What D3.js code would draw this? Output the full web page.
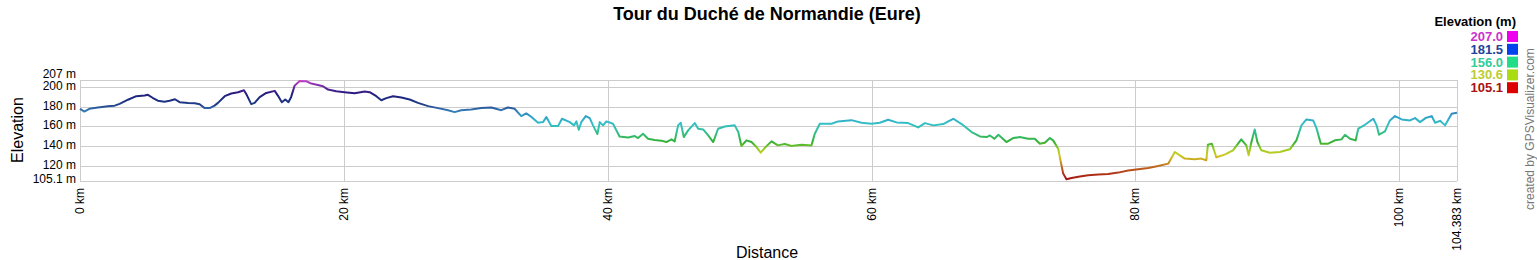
<!DOCTYPE html>
<html><head><meta charset="utf-8">
<script src="https://cdn.jsdelivr.net/npm/d3@7"></script>
<style>body{margin:0;background:#fff;}svg{display:block;font-family:"Liberation Sans",Arial,sans-serif;}</style>
</head><body>
<svg id="c" width="1537" height="260"></svg>
<script>
const distKm = [0,0.33,0.71,1.36,2.12,2.63,3.0,3.64,4.27,4.9,5.15,5.5,5.9,6.4,6.8,7.2,7.55,8.2,8.7,9.07,9.45,9.83,10.2,10.46,10.97,11.47,11.98,12.43,12.6,12.98,13.24,13.62,14.12,14.76,15.0,15.3,15.56,15.8,16.0,16.27,16.65,17.16,17.54,18.04,18.42,18.8,19.43,20.06,20.82,21.58,21.96,22.46,22.84,23.22,23.73,24.36,24.99,25.62,26.38,27.14,27.9,28.4,28.9,29.66,30.42,31.18,31.93,32.44,32.94,33.45,33.83,34.2,34.72,35.1,35.35,35.73,36.24,36.54,37.13,37.45,37.63,37.81,38.0,38.34,38.64,38.89,39.22,39.4,39.65,39.9,40.4,40.9,41.55,42.05,42.3,42.68,43.06,43.56,44.07,44.45,44.83,45.08,45.34,45.54,45.77,46.1,46.6,46.86,47.24,47.62,48.0,48.37,48.88,49.63,49.9,50.14,50.52,50.9,51.28,51.6,51.9,52.42,52.9,53.42,53.93,54.69,55.45,55.7,56.08,56.97,57.47,58.48,59.24,60.0,60.63,61.26,61.9,62.78,63.54,64.05,64.68,65.44,65.82,66.2,66.83,67.59,68.22,68.73,68.98,69.31,69.62,69.85,70.23,70.73,71.24,71.87,72.38,72.76,73.14,73.52,73.77,74.15,74.35,74.53,74.78,75.16,75.79,76.42,77.18,77.94,78.7,79.45,80.21,80.97,81.73,82.49,82.99,83.37,83.75,84.5,85.0,85.38,85.5,85.8,86.14,86.77,87.4,88.03,88.41,88.59,88.8,89.05,89.25,89.55,90.19,90.95,91.71,92.21,92.59,92.97,93.48,93.73,94.06,94.62,95.13,95.63,95.89,96.27,96.7,96.9,97.4,98.04,98.29,98.47,98.92,99.3,99.68,100.19,100.82,101.2,101.58,102.0,102.47,102.72,103.1,103.48,103.98,104.383];
const elevM = [177.8,175,177.8,179,180.5,181,182.8,187,190.6,191.2,192,189,186,185,186,187.5,184.5,183.8,183.5,182.5,178.5,178.5,181,183.8,190.6,193.3,194.6,196.6,192.9,182.5,183.8,189.6,193.9,196,191.2,184.5,187.2,184.5,189.6,201.3,206,205.7,203.4,202,200.7,197.3,195.6,194.6,193.6,195.3,194.6,190.6,186.5,188.6,190.6,189.2,187.2,183.8,180.5,178.5,176.4,174.4,176.4,177.1,178.5,179.1,176.4,179.1,177.8,170.4,173.1,169.7,163.6,164.3,169.4,160.3,160.3,167.7,164.3,161,165,156.6,164.3,170.4,168.4,161,152.2,164.3,161,165,162.6,149.8,148.8,150.2,148.1,152.5,147.5,146.1,145.5,144.1,146.8,144.8,161,163.6,149.1,155.9,163.3,157.6,156.9,150.8,144.1,157.6,159.9,161,154.2,140.1,145.8,144.1,139,133.3,138,144.8,140.7,142.1,140.1,141.4,140.7,152.5,162.6,162.6,165,166.3,163.6,162.6,163.6,166.7,164,163.3,158.9,163.3,161,162.3,165,167.7,162.3,154.2,149.8,149.1,150.8,147.5,151.5,148.8,144.1,148.1,149.1,147.5,147.5,142.4,143.4,148.1,145.8,137.4,123.9,112.1,106.4,107.7,109.1,110.4,111.1,111.8,113.1,115.2,116.5,117.8,119.9,122.2,134,130.6,127.3,126.6,127.3,125.6,141.4,142.4,128.6,131.3,135.7,146.8,140.7,130.6,144.1,156.9,144.1,135.7,133.3,134,136.7,145.8,161,167,166,158.2,142.4,142.4,145.8,146.8,151.5,147.5,145.8,157.6,161.6,167.7,161,151.5,154.9,166,170.4,167,166,168.4,164.3,168.4,170.4,163.6,165.6,161,172.7,173.7];

const yTicks = [207,200,180,160,140,120,105.1];
const yTickLabels = ["207 m","200 m","180 m","160 m","140 m","120 m","105.1 m"];
const xTicks = [0,20,40,60,80,100,104.383];
const xTickLabels = ["0 km","20 km","40 km","60 km","80 km","100 km","104.383 km"];
const legendValues = ["207.0","181.5","156.0","130.6","105.1"];
const legendTextColors = ["#cc33cc","#224499","#33cc99","#bbcc33","#aa1111"];
const legendSwatchColors = ["#ee00ee","#0044ee","#22dd88","#aadd11","#dd0000"];
const gradElev = [105.1,112,120,127,131,137,144,150,156,163,170,176,182,188,194,200,207];
const gradColors = ["#a00d0d","#b03318","#c07020","#ccb020","#cccc22","#99cc22","#33b033","#33bb66","#33c0a0","#33c0c8","#30a0c8","#3478b4","#224088","#1c2a80","#2a1a80","#6a2aa0","#cc44cc"];

const svg = d3.select("#c");
const x = d3.scaleLinear().domain([0,104.383]).range([80,1457]);
const y = d3.scaleLinear().domain([105.1,207]).range([180.5,80]);

const g = svg.append("g");
g.selectAll("line.h").data(yTicks).join("line")
  .attr("x1",80).attr("x2",1457).attr("y1",d=>Math.round(y(d))+0.5).attr("y2",d=>Math.round(y(d))+0.5)
  .attr("stroke","#cccccc").attr("stroke-width",1);
g.selectAll("line.v").data(xTicks).join("line")
  .attr("y1",80).attr("y2",181).attr("x1",d=>Math.round(x(d))+0.5).attr("x2",d=>Math.round(x(d))+0.5)
  .attr("stroke","#cccccc").attr("stroke-width",1);

const yOff = d => d===207 ? -2 : (d===105.1 ? 2 : 3);
svg.append("g").selectAll("text").data(yTicks).join("text")
  .attr("x",76).attr("y",d=>y(d)+yOff(d)).attr("text-anchor","end")
  .attr("font-size",12).attr("fill","#000").text((d,i)=>yTickLabels[i]);

svg.append("g").selectAll("text").data(xTicks).join("text")
  .attr("transform",d=>`translate(${x(d)+4},188) rotate(-90)`)
  .attr("text-anchor","end").attr("font-size",12).attr("fill","#000")
  .text((d,i)=>xTickLabels[i]);

const defs = svg.append("defs");
const lg = defs.append("linearGradient").attr("id","eg").attr("gradientUnits","userSpaceOnUse")
  .attr("x1",0).attr("x2",0).attr("y1",y(105.1)).attr("y2",y(207));
lg.selectAll("stop").data(gradElev).join("stop")
  .attr("offset",d=>(d-105.1)/(207-105.1)).attr("stop-color",(d,i)=>gradColors[i]);

const pts = distKm.map((d,i)=>[d,elevM[i]]);
const line = d3.line().x(d=>x(d[0])).y(d=>y(d[1]));
svg.append("path").attr("d",line(pts)).attr("fill","none")
  .attr("stroke","url(#eg)").attr("stroke-width",2).attr("stroke-linejoin","round");

svg.append("text").attr("x",767).attr("y",20).attr("text-anchor","middle")
  .attr("font-size",18).attr("font-weight","bold").text("Tour du Duché de Normandie (Eure)");
svg.append("text").attr("transform","translate(23,130) rotate(-90)").attr("text-anchor","middle")
  .attr("font-size",16).text("Elevation");
svg.append("text").attr("x",767).attr("y",258).attr("text-anchor","middle")
  .attr("font-size",16).text("Distance");

svg.append("text").attr("x",1516).attr("y",26).attr("text-anchor","end")
  .attr("font-size",13).attr("font-weight","bold").text("Elevation (m)");
const lgd = svg.append("g");
lgd.selectAll("text").data(legendValues).join("text")
  .attr("x",1503).attr("y",(d,i)=>41+i*12.8).attr("text-anchor","end")
  .attr("font-size",13).attr("font-weight","bold").attr("fill",(d,i)=>legendTextColors[i]).text(d=>d);
lgd.selectAll("rect").data(legendValues).join("rect")
  .attr("x",1507).attr("y",(d,i)=>31+i*12.8).attr("width",11).attr("height",11)
  .attr("fill",(d,i)=>legendSwatchColors[i]);

svg.append("text").attr("transform","translate(1534,210) rotate(-90)")
  .attr("font-size",12).attr("fill","#777").text("created by GPSVisualizer.com");
</script>
</body></html>
